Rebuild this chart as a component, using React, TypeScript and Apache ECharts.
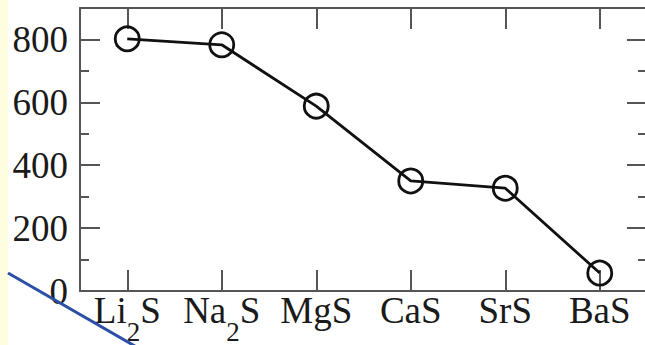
import React, { useEffect, useRef } from "react";
import * as echarts from "echarts";

const categories = ["Li{sub|2}S", "Na{sub|2}S", "MgS", "CaS", "SrS", "BaS"];
const values = [802, 783, 588, 350, 327, 57];
const yMin = 0;
const yMax = 900;
const yInterval = 200;

const FONT = "Liberation Serif";
const AXIS_COLOR = "#555";

export default function App() {
  const ref = useRef<HTMLDivElement>(null);
  useEffect(() => {
    const chart = echarts.init(ref.current!, null, { renderer: "svg" });
    const tickStyle = { color: AXIS_COLOR, width: 2 };
    chart.setOption({
      animation: false,
      backgroundColor: "#ffffff",
      grid: { left: 80, top: 8, right: 13, bottom: 54, containLabel: false },
      xAxis: [
        {
          type: "category",
          data: categories,
          position: "bottom",
          boundaryGap: true,
          axisLine: { show: true, onZero: false, lineStyle: { color: AXIS_COLOR, width: 2 } },
          axisTick: { show: true, interval: 0, inside: true, length: 21, alignWithLabel: true, lineStyle: tickStyle },
          axisLabel: {
            margin: 1,
            interval: 0,
            fontFamily: FONT,
            fontSize: 37,
            color: "#1a1a1a",
            verticalAlign: "top",
            rich: {
              sub: { fontFamily: FONT, fontSize: 27, color: "#1a1a1a", padding: [26, 0, 0, 0], verticalAlign: "top", lineHeight: 27 },
            },
          },
          splitLine: { show: false },
        },
        {
          type: "category",
          data: categories,
          position: "top",
          boundaryGap: true,
          axisLine: { show: true, onZero: false, lineStyle: { color: AXIS_COLOR, width: 2 } },
          axisTick: { show: true, interval: 0, inside: true, length: 21, alignWithLabel: true, lineStyle: tickStyle },
          axisLabel: { show: false },
          splitLine: { show: false },
        },
      ],
      yAxis: [
        {
          type: "value",
          min: yMin,
          max: yMax,
          interval: yInterval,
          position: "left",
          axisLine: { show: true, onZero: false, lineStyle: { color: AXIS_COLOR, width: 2 } },
          axisTick: { show: true, inside: true, length: 20, lineStyle: tickStyle },
          minorTick: { show: true, splitNumber: 2, length: 9, lineStyle: tickStyle },
          axisLabel: {
            margin: 12,
            fontFamily: FONT,
            fontSize: 37,
            color: "#1a1a1a",
            showMaxLabel: false,
          },
          splitLine: { show: false },
        },
        {
          type: "value",
          min: yMin,
          max: yMax,
          interval: yInterval,
          position: "right",
          axisLine: { show: true, onZero: false, lineStyle: { color: AXIS_COLOR, width: 2 } },
          axisTick: { show: true, inside: true, length: 20, lineStyle: tickStyle },
          minorTick: { show: true, splitNumber: 2, length: 9, lineStyle: tickStyle },
          axisLabel: { show: false },
          splitLine: { show: false },
        },
      ],
      graphic: [
        { type: "rect", shape: { x: 0, y: 0, width: 8, height: 345 }, style: { fill: "#FFFDDF" }, z: 100 },
        { type: "line", shape: { x1: 8, y1: 273, x2: 140, y2: 349 }, style: { stroke: "#2B4FA6", lineWidth: 3 }, z: 100 },
      ],
      series: [
        {
          type: "line",
          data: values,
          xAxisIndex: 0,
          yAxisIndex: 0,
          symbol: "circle",
          symbolSize: 24,
          lineStyle: { color: "#111", width: 2.8 },
          itemStyle: { color: "transparent", borderColor: "#111", borderWidth: 2.8 },
          z: 5,
        },
      ],
    });
    return () => chart.dispose();
  }, []);
  return (
    <div
      ref={ref}
      style={{ position: "fixed", left: 0, top: 0, width: 660, height: 345 }}
    />
  );
}
